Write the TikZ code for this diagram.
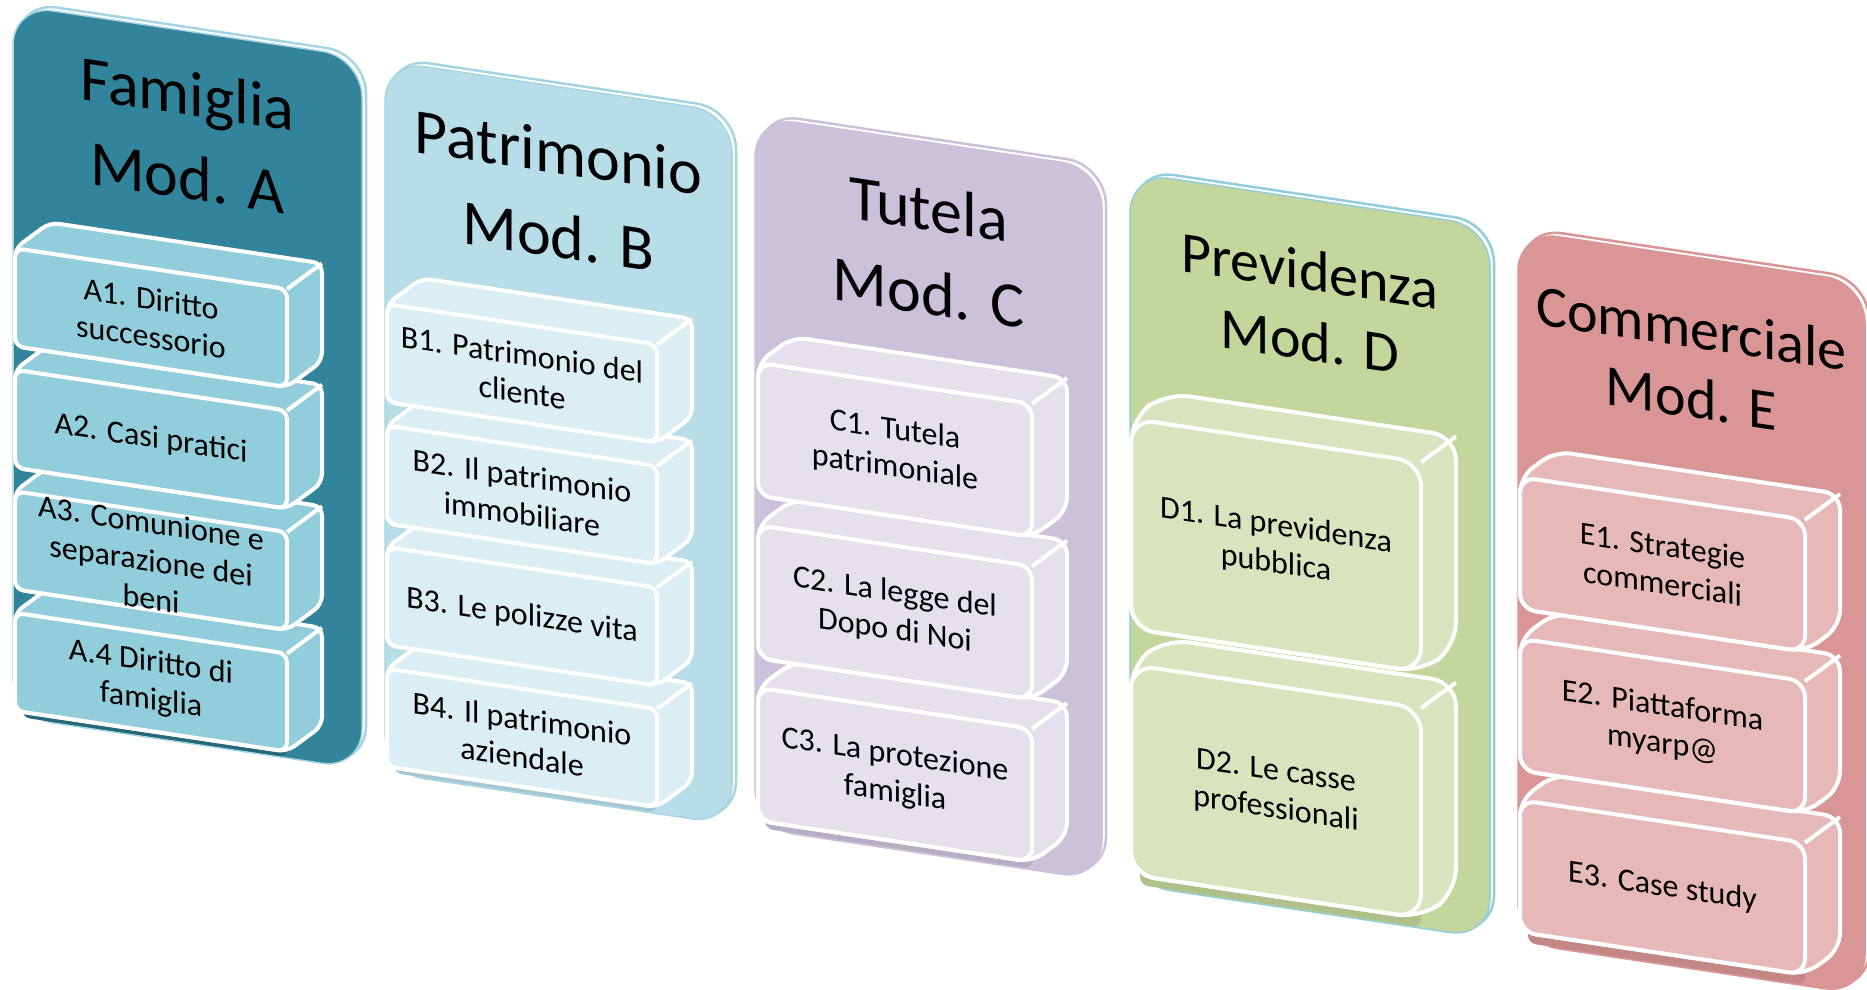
\documentclass[tikz,border=0pt]{standalone}
\usepackage{fontspec}
\setmainfont{Carlito}
\usepackage{tikz}

\definecolor{pannelloA}{HTML}{31849B}
\definecolor{bloccoA}{HTML}{92CDDC}
\definecolor{bordoA}{HTML}{A5D5E2}
\definecolor{pannelloB}{HTML}{B7DDE8}
\definecolor{bloccoB}{HTML}{DAEEF3}
\definecolor{bordoB}{HTML}{A5D5E2}
\definecolor{pannelloC}{HTML}{CCC1DA}
\definecolor{bloccoC}{HTML}{E5E0EC}
\definecolor{bordoC}{HTML}{CCC1DA}
\definecolor{pannelloD}{HTML}{C3D69B}
\definecolor{bloccoD}{HTML}{D7E4BD}
\definecolor{bordoD}{HTML}{92CDDC}
\definecolor{pannelloE}{HTML}{D99694}
\definecolor{bloccoE}{HTML}{E6B9B8}
\definecolor{bordoE}{HTML}{D99694}

% panel: left, right, fill, edge
\newcommand{\pannello}[4]{%
  \draw[#4, line width=2.5, rounded corners=40] (#1+4,-1) rectangle (#2+4,711);
  \filldraw[fill=#3, draw=#4, line width=1.5, rounded corners=40] (#1,3) rectangle (#2,715);
}
% box: name, left, top, width, height, radius, fill, text
\newcommand{\blocco}[8]{%
  \filldraw[cubo, fill=#7, rounded corners=#6] (#2,#3) -- ++(35,-31) -- ++(#4,0) -- ++(0,#5) -- ++(-35,31) -- ++(-#4,0) -- cycle;
  \filldraw[cubo, fill=#7, rounded corners=#6] (#2,#3) rectangle ++(#4,#5);
  \draw[cubo] (#2+#4,#3) -- ++(35,-31);
  \node[voce] (#1) at (#2+#4/2,#3+#5/2) {#8};
}

\begin{document}
\begin{tikzpicture}[x=1pt, y=-1pt,
    cubo/.style={draw=white, line width=4, line join=round},
    ombra/.style={rounded corners=8},
    voce/.style={align=center, inner sep=0, transform shape, font=\fontsize{32}{38}\selectfont},
    titolo/.style={align=center, inner sep=0, transform shape, font=\fontsize{64}{84}\selectfont},
    titolino/.style={titolo, font=\fontsize{58}{70}\selectfont}]
  \fill[white] (0,0) rectangle (1867,989);
  \useasboundingbox (0,0) rectangle (1867,989);
  \begin{scope}[yslant=-0.15]
    % Mod. A
    \pannello{13}{362}{pannelloA}{bordoA}
    \fill[ombra, pannelloA!78!black] (22,690) rectangle (287,714);
    \blocco{a4}{15}{610.5}{272}{98}{9}{bloccoA}{A.4 Diritto di\\famiglia}
    \blocco{a3}{15}{489}{272}{98}{9}{bloccoA}{A3. Comunione e\\separazione dei\\beni}
    \blocco{a2}{15}{367.5}{272}{98}{9}{bloccoA}{A2. Casi pratici}
    \blocco{a1}{15}{246}{272}{98}{9}{bloccoA}{A1. Diritto\\successorio}
    \node[titolo] (famiglia) at (187.5,107) {Famiglia\\Mod. A};

    % Mod. B
    \pannello{385}{732}{pannelloB}{bordoB}
    \fill[ombra, pannelloB!90!black] (394,690) rectangle (657,714);
    \blocco{b4}{387}{610.5}{270}{98}{9}{bloccoB}{B4. Il patrimonio\\aziendale}
    \blocco{b3}{387}{489}{270}{98}{9}{bloccoB}{B3. Le polizze vita}
    \blocco{b2}{387}{367.5}{270}{98}{9}{bloccoB}{B2. Il patrimonio\\immobiliare}
    \blocco{b1}{387}{246}{270}{98}{9}{bloccoB}{B1. Patrimonio del\\cliente}
    \node[titolo] (patrimonio) at (558.5,110) {Patrimonio\\Mod. B};

    % Mod. C
    \pannello{755}{1102}{pannelloC}{bordoC}
    \fill[ombra, pannelloC!90!black] (765,690) rectangle (1032,714);
    \blocco{c3}{758}{574}{274}{133}{14}{bloccoC}{C3. La protezione\\famiglia}
    \blocco{c2}{758}{411.5}{274}{133}{14}{bloccoC}{C2. La legge del\\Dopo di Noi}
    \blocco{c1}{758}{249}{274}{133}{14}{bloccoC}{C1. Tutela\\patrimoniale}
    \node[titolo] (tutela) at (928.5,111) {Tutela\\Mod. C};

    % Mod. D
    \pannello{1130}{1490}{pannelloD}{bordoD}
    \fill[ombra, pannelloD!90!black] (1140,690) rectangle (1421,714);
    \blocco{d2}{1131}{495}{290}{210}{24}{bloccoD}{D2. Le casse\\professionali}
    \blocco{d1}{1131}{249}{290}{210}{24}{bloccoD}{D1. La previdenza\\pubblica}
    \node[titolino] (previdenza) at (1310,109) {Previdenza\\Mod. D};

    % Mod. E
    \pannello{1518}{1865}{pannelloE}{bordoE}
    \fill[ombra, pannelloE!90!black] (1528,690) rectangle (1805,714);
    \blocco{e3}{1520}{572}{285}{132}{16}{bloccoE}{E3. Case study}
    \blocco{e2}{1520}{410.5}{285}{132}{16}{bloccoE}{E2. Piattaforma\\myarp@}
    \blocco{e1}{1520}{249}{285}{132}{16}{bloccoE}{E1. Strategie\\commerciali}
    \node[titolino] (commerciale) at (1691.5,109) {Commerciale\\Mod. E};
  \end{scope}
\end{tikzpicture}
\end{document}
